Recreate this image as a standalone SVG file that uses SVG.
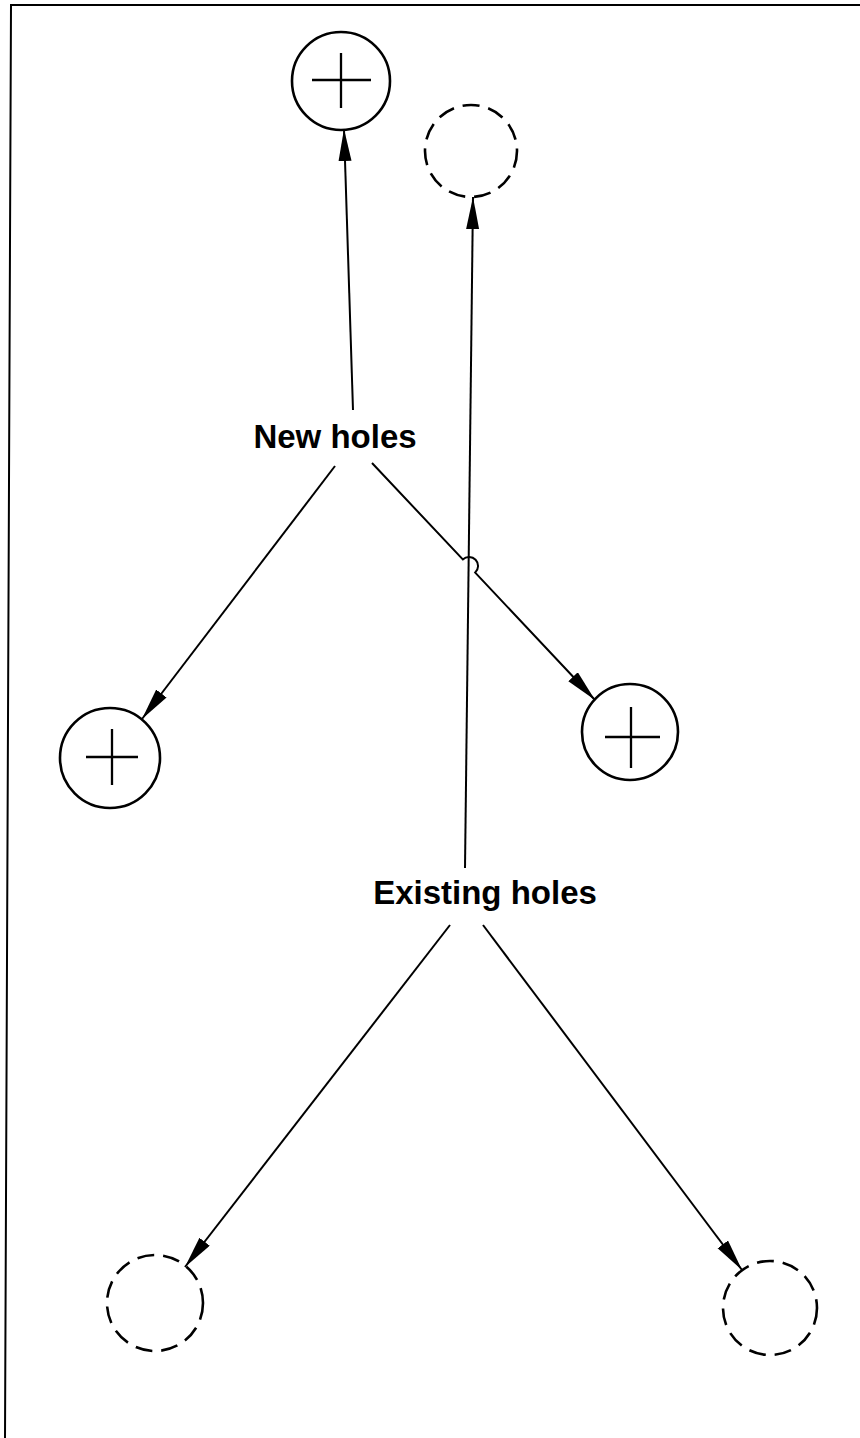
<svg xmlns="http://www.w3.org/2000/svg" width="860" height="1438" viewBox="0 0 860 1438">
<style>
.hole{fill:none;stroke:#000;stroke-width:2.6}
.existing{stroke-dasharray:17 9}
.cross{stroke:#000;stroke-width:2.3;fill:none}
.conn{fill:none;stroke:#000;stroke-width:2}
.lbl{font-family:"Liberation Sans",Arial,sans-serif;font-weight:bold;font-size:33px;fill:#000;text-anchor:middle}
.frame{stroke:#000;stroke-width:2;fill:none}
</style>
<defs>
<marker id="ah" markerUnits="userSpaceOnUse" markerWidth="34" markerHeight="14" refX="32" refY="6.5" orient="auto">
<path d="M0,0 L32,6.5 L0,13 z" fill="#000"/>
</marker>
</defs>
<g id="frame">
<path class="frame" d="M860,5 L11,5 L5,1438"/>
</g>
<g id="new-hole-top">
<circle class="hole" cx="341" cy="81" r="49"/>
<path class="cross" d="M312,80 H371 M341,53 V108"/>
</g>
<g id="existing-hole-top">
<circle class="hole existing" cx="471" cy="151" r="46"/>
</g>
<g id="label-new">
<text class="lbl" x="335" y="448">New holes</text>
</g>
<g id="new-hole-left">
<circle class="hole" cx="110" cy="758" r="50"/>
<path class="cross" d="M86,757 H138 M112,729 V785"/>
</g>
<g id="new-hole-right">
<circle class="hole" cx="630" cy="732" r="48"/>
<path class="cross" d="M605,737 H660 M631,707 V768"/>
</g>
<g id="label-existing">
<text class="lbl" x="485" y="904">Existing holes</text>
</g>
<g id="existing-hole-left">
<circle class="hole existing" cx="155" cy="1303" r="48"/>
</g>
<g id="existing-hole-right">
<circle class="hole existing" cx="770" cy="1308" r="47"/>
</g>
<g id="connectors">
<path class="conn" d="M353,410 L344,129" marker-end="url(#ah)"/>
<path class="conn" d="M465,868 L473,197" marker-end="url(#ah)"/>
<path class="conn" d="M335,466 L142,719" marker-end="url(#ah)"/>
<path class="conn" d="M372,463 L462.8,559.4 A9,9 0 0 1 475.2,572.6 L595,700" marker-end="url(#ah)"/>
<path class="conn" d="M450,925 L185,1267" marker-end="url(#ah)"/>
<path class="conn" d="M483,925 L742,1270" marker-end="url(#ah)"/>
</g>
</svg>
